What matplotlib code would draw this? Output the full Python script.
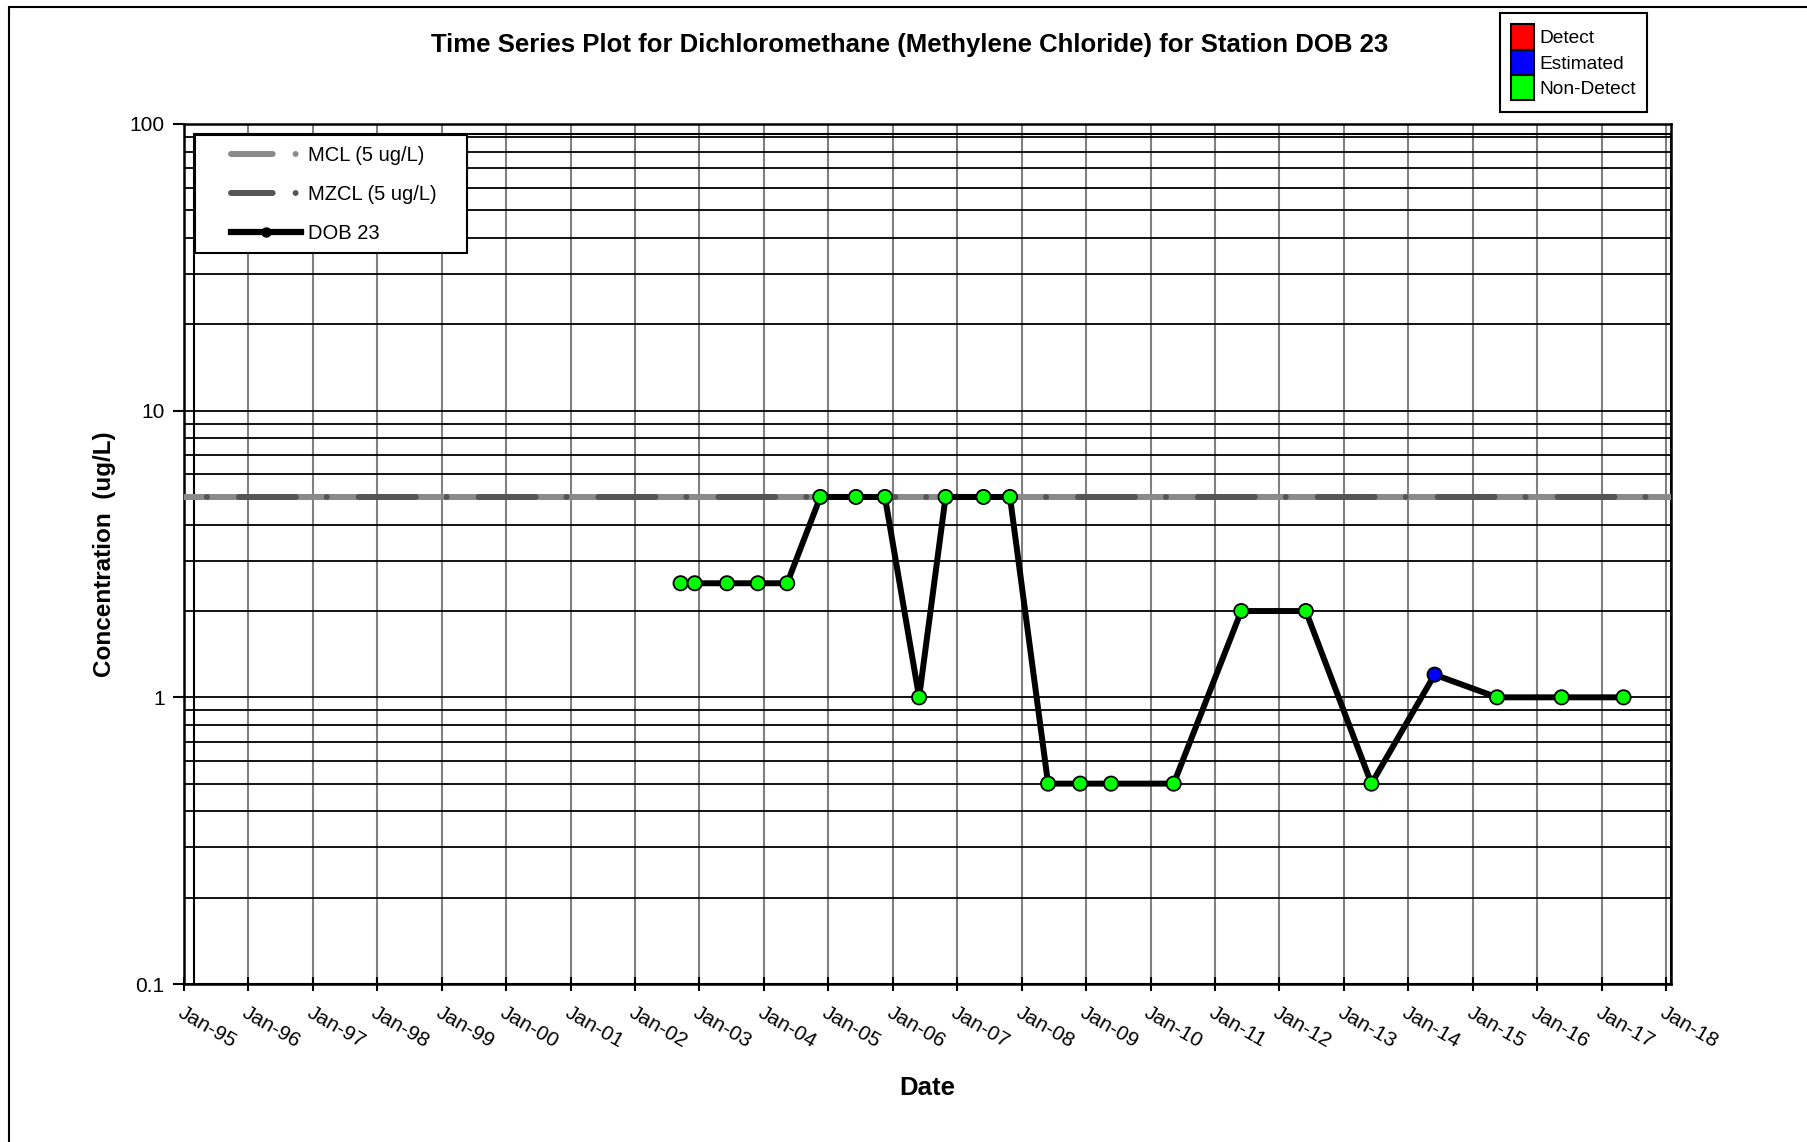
import datetime
import matplotlib
matplotlib.use('Agg')
import matplotlib.pyplot as plt
import matplotlib.dates as mdates
from matplotlib.lines import Line2D
from matplotlib.patches import Patch, Rectangle

plt.rcParams['font.family'] = ['Liberation Sans', 'DejaVu Sans']
plt.rcParams['lines.scale_dashes'] = False

# sample dates, results and qualifiers for DOB 23
dates = ['2002-09-16', '2002-12-05', '2003-06-06', '2003-11-28', '2004-05-12',
         '2004-11-16', '2005-06-06', '2005-11-17', '2006-05-30', '2006-10-27',
         '2007-05-30', '2007-10-27', '2008-05-30', '2008-11-28', '2009-05-22',
         '2010-05-12', '2011-05-30', '2012-05-30', '2013-06-06', '2014-05-30',
         '2015-05-19', '2016-05-19', '2017-05-05']
values = [2.5, 2.5, 2.5, 2.5, 2.5,
          5, 5, 5, 1, 5,
          5, 5, 0.5, 0.5, 0.5,
          0.5, 2, 2, 0.5, 1.2,
          1, 1, 1]
quals = ['Non-Detect'] * 19 + ['Estimated'] + ['Non-Detect'] * 3

mcl = 5
mzcl = 5
qual_colors = {'Detect': '#ff0000', 'Estimated': '#0000ff', 'Non-Detect': '#00ff00'}

x = [datetime.datetime.strptime(d, '%Y-%m-%d') for d in dates]

W, H = 1808, 1142
fig = plt.figure(figsize=(W / 100, H / 100), dpi=100)
ax = fig.add_axes([184 / W, 1 - 984 / H, 1487 / W, 860 / H])

# outer chart frame
fig.patches.append(Rectangle((9 / W, -0.1), 1.2, 1 - 7 / H + 0.1,
                             transform=fig.transFigure, fill=False,
                             edgecolor='black', linewidth=1.5, clip_on=False))
# inner plot-area box (slightly inset like the original)
ax.add_patch(Rectangle((10 / 1487, 0), 1 - 10 / 1487, 1 - 10 / 860,
                       transform=ax.transAxes, fill=False, edgecolor='black',
                       linewidth=1.5, clip_on=False, zorder=2))

ax.set_yscale('log')
ax.set_ylim(0.1, 100)
ax.set_xlim(datetime.datetime(1995, 1, 1), datetime.datetime(2018, 1, 29))

# standards
ax.axhline(mcl, color='#8a8a8a', linewidth=4.3, linestyle=(20, (62, 12, 0.01, 12)),
           dash_capstyle='round', zorder=3)
ax.axhline(mzcl, color='#555555', linewidth=4.3, linestyle=(46.8, (41, 22.3, 0.01, 23)),
           dash_capstyle='round', zorder=3)

ax.plot(x, values, color='black', linewidth=4.3, zorder=4)
ax.scatter(x, values, s=105, c=[qual_colors[q] for q in quals],
           edgecolors='black', linewidths=1.3, zorder=5)

# grid
ax.grid(True, which='both', axis='y', color='black', linewidth=1.3)
ax.grid(True, which='major', axis='x', color='#808080', linewidth=1.5)
ax.set_axisbelow(True)

ax.xaxis.set_major_locator(mdates.YearLocator())
ax.xaxis.set_major_formatter(mdates.DateFormatter('%b-%y'))
ax.set_yticks([0.1, 1, 10, 100])
ax.set_yticklabels(['0.1', '1', '10', '100'])
ax.tick_params(axis='y', which='minor', length=0)
ax.tick_params(axis='y', which='major', direction='out', length=8, width=1.5,
               labelsize=15, pad=6)
ax.tick_params(axis='x', direction='inout', length=10, width=1.5,
               labelsize=15, pad=9)
for lab in ax.get_xticklabels():
    lab.set_rotation(-30)
    lab.set_ha('left')
    lab.set_va('top')
    lab.set_rotation_mode('anchor')

for s in ax.spines.values():
    s.set_linewidth(1.8)

ax.set_xlabel('Date', fontsize=18.5, fontweight='bold')
ax.xaxis.set_label_coords(0.5, -0.107)
ax.set_ylabel('Concentration  (ug/L)', fontsize=17.5, fontweight='bold')
ax.yaxis.set_label_coords(-0.046, 0.5)
fig.text(910 / W, 1 - 45 / H,
         'Time Series Plot for Dichloromethane (Methylene Chloride) for Station DOB 23',
         fontsize=18.5, fontweight='bold', ha='center', va='center')

# series legend (frame drawn separately)
ax.add_patch(Rectangle((11 / 1487, 1 - 129 / 860), 272 / 1487, 118 / 860,
                       transform=ax.transAxes, facecolor='white',
                       edgecolor='black', linewidth=1.5, zorder=6))
h1 = [Line2D([], [], color='#8a8a8a', linewidth=4.3, linestyle=(0, (30, 16.5, 0.01, 30)),
             dash_capstyle='round'),
      Line2D([], [], color='#555555', linewidth=4.3, linestyle=(0, (30, 16.5, 0.01, 30)),
             dash_capstyle='round'),
      Line2D([], [], color='black', linewidth=4.5, marker='o', markersize=6.5)]
leg1 = ax.legend(h1, ['MCL (5 ug/L)', 'MZCL (5 ug/L)', 'DOB 23'],
                 loc='upper left', bbox_to_anchor=(47 / 1487, 1 - 22 / 860),
                 fontsize=14.5, handlelength=3.5, handletextpad=0.3,
                 labelspacing=1.0, borderpad=0, borderaxespad=0,
                 frameon=False)
leg1.set_zorder(7)

# qualifier legend
h2 = [Patch(facecolor=qual_colors[k], edgecolor='black', linewidth=1.5)
      for k in qual_colors]
leg2 = fig.legend(h2, list(qual_colors), loc='upper left',
                  bbox_to_anchor=(1500 / W, 1 - 13 / H), fontsize=13.8,
                  handlelength=1.2, handleheight=1.65, handletextpad=0.25,
                  labelspacing=0.0, borderpad=0.6, borderaxespad=0,
                  fancybox=False, framealpha=1, edgecolor='black')
leg2.get_frame().set_linewidth(1.5)

fig.savefig('out.png', dpi=100)
